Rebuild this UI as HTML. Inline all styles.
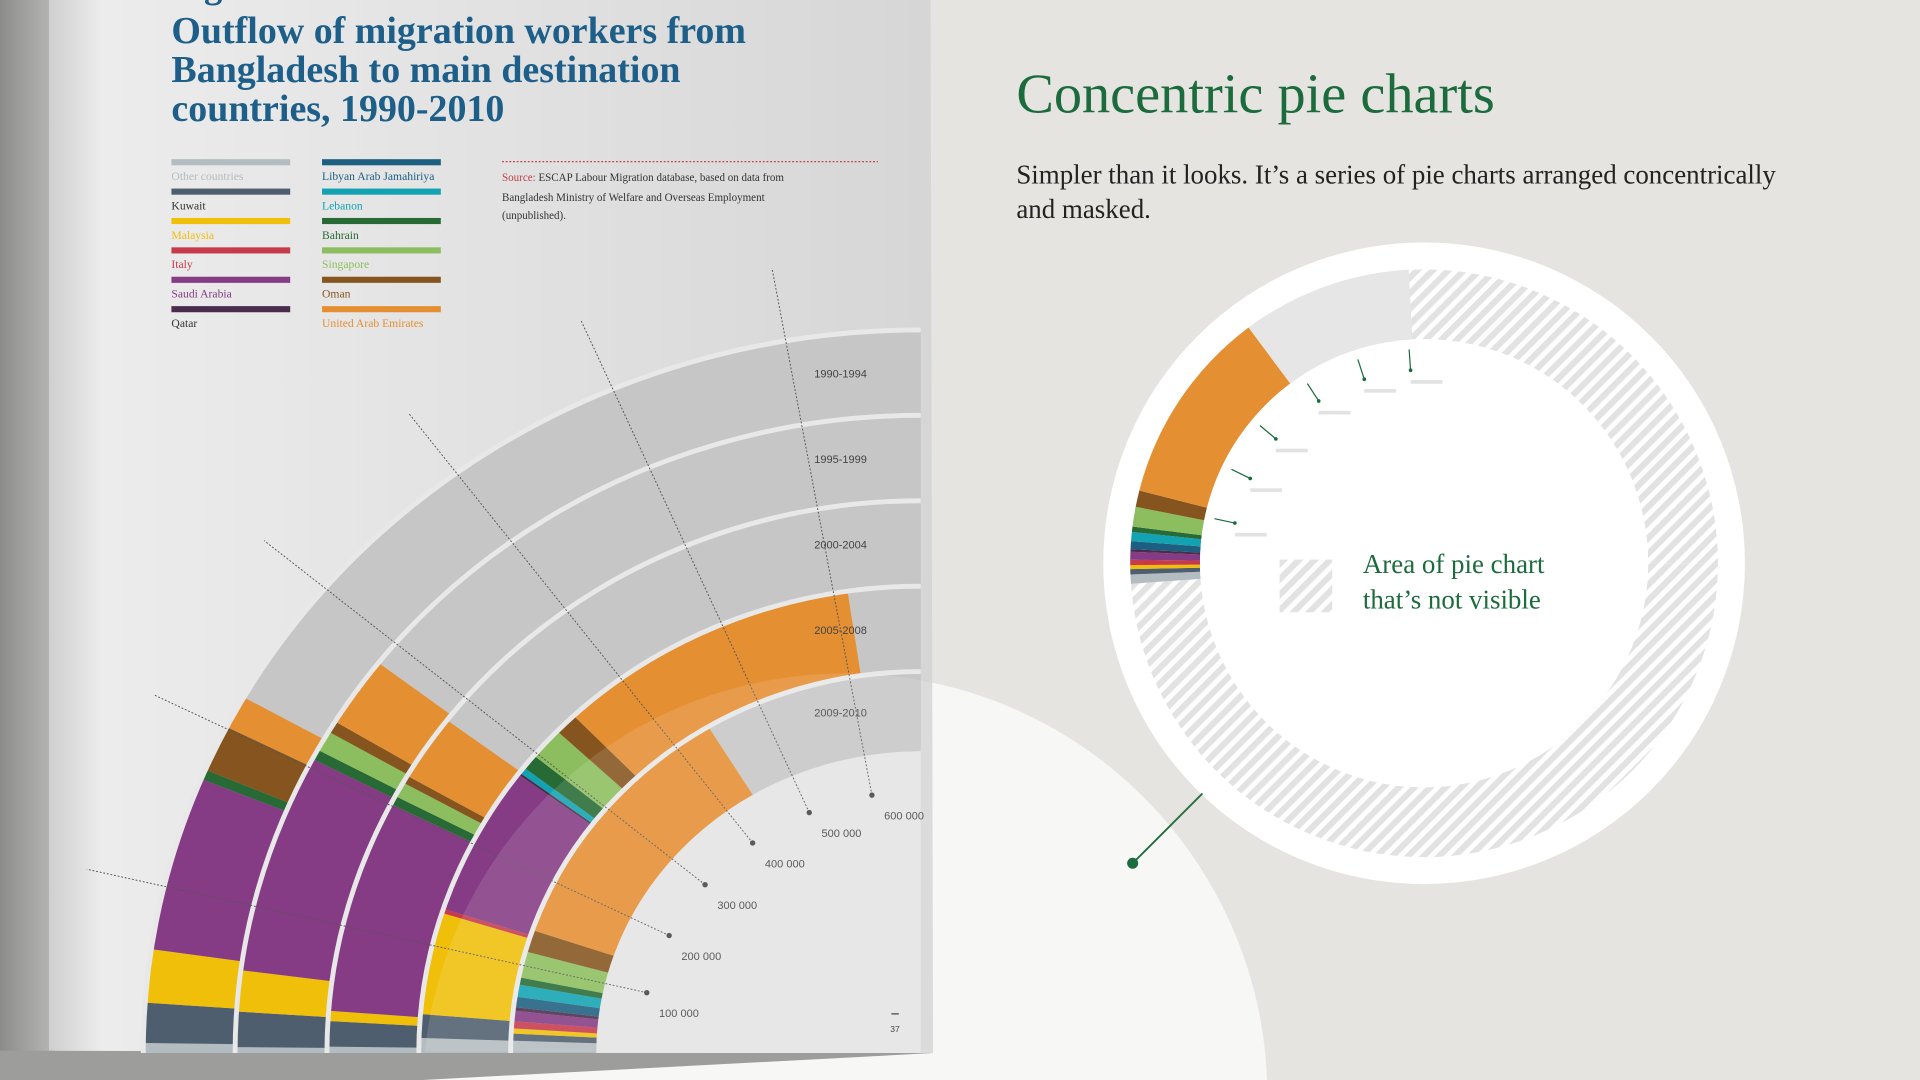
<!DOCTYPE html>
<html><head><meta charset="utf-8"><style>
html,body{margin:0;padding:0;width:1920px;height:1080px;overflow:hidden;background:#e5e4e0}
svg{display:block;position:absolute;left:0;top:0}
.serif{font-family:"Liberation Serif",serif}
.sans{font-family:"Liberation Sans",sans-serif}
</style></head><body>
<svg id="main" width="1920" height="1080" viewBox="0 0 1568 882" xmlns="http://www.w3.org/2000/svg">
<defs>
<linearGradient id="pageg" x1="0" x2="1" y1="0" y2="0">
<stop offset="0" stop-color="#cfcfcf"/><stop offset="0.06" stop-color="#ececec"/><stop offset="0.5" stop-color="#e2e2e2"/><stop offset="1" stop-color="#d6d6d6"/></linearGradient>
<linearGradient id="leftg" x1="0" x2="1"><stop offset="0" stop-color="#8c8c8a"/><stop offset="1" stop-color="#b8b8b6"/></linearGradient>
<pattern id="hatch" width="9" height="9" patternUnits="userSpaceOnUse" patternTransform="rotate(45)">
<rect width="9" height="9" fill="#ffffff"/><rect width="5" height="9" fill="#e2e2e2"/></pattern>
<clipPath id="pageclip"><polygon points="40,0 760,0 762,860 40,858"/></clipPath>
</defs>
<rect x="0" y="0" width="1568" height="882" fill="#e5e4e0"/>
<circle cx="690" cy="895" r="345" fill="#f7f7f5"/>
<rect x="0" y="0" width="45" height="882" fill="url(#leftg)"/>
<polygon points="40,0 760,0 762,860 40,858" fill="url(#pageg)"/>
<polygon points="0,858 762,860 345,882 0,882" fill="#9d9d9b"/>
<g id="chart"></g>
<circle cx="690" cy="895" r="345" fill="#ffffff" opacity="0.12" clip-path="url(#pageclip)"/>

<text class="serif" x="140" y="-2" font-size="30" font-weight="bold" fill="#1d5f89">Figure 2.</text>
<g class="serif" font-size="31" font-weight="bold" fill="#1d5f89">
<text x="140" y="35">Outflow of migration workers from</text>
<text x="140" y="67">Bangladesh to main destination</text>
<text x="140" y="99">countries, 1990-2010</text></g>
<g id="legend"></g>
<line x1="410" y1="132" x2="717" y2="132" stroke="#c0404a" stroke-width="1" stroke-dasharray="1.5,1.5"/>
<g class="serif" font-size="9" fill="#333">
<text x="410" y="148"><tspan fill="#c0404a">Source:</tspan> ESCAP Labour Migration database, based on data from</text>
<text x="410" y="164">Bangladesh Ministry of Welfare and Overseas Employment</text>
<text x="410" y="179">(unpublished).</text></g>
<text class="sans" x="727" y="843" font-size="7" fill="#444">37</text>
<line x1="728" y1="828" x2="734" y2="828" stroke="#444"/>

<text class="serif" x="830" y="92" font-size="46" fill="#1c6b3c">Concentric pie charts</text>
<g class="serif" font-size="22" fill="#222">
<text x="830" y="150">Simpler than it looks. It’s a series of pie charts arranged concentrically</text>
<text x="830" y="178">and masked.</text></g>
<g id="mag">
<circle cx="1163" cy="460" r="262" fill="#ffffff"/>
</g>
<line x1="925" y1="705" x2="982" y2="648" stroke="#1c6b3c" stroke-width="1.5"/>
<circle cx="925" cy="705" r="4.5" fill="#1c6b3c"/>
<rect x="1045" y="457" width="43" height="43" fill="url(#hatch)"/>
<g class="serif" font-size="22" fill="#1c6b3c">
<text x="1113" y="468">Area of pie chart</text><text x="1113" y="497">that’s not visible</text></g>
</svg>
<script>
const countries=["Other countries","Kuwait","Malaysia","Italy","Saudi Arabia","Qatar","Libyan Arab Jamahiriya","Lebanon","Bahrain","Singapore","Oman","United Arab Emirates"];
const colors=["#b3bcc1","#4f5e6e","#efbf0a","#c73a4c","#853c85","#4a2c4c","#1d5f80","#12a2b2","#276a35","#8cbd5e","#86551f","#e58f33"];
const periods=["1990-1994","1995-1999","2000-2004","2005-2008","2009-2010"];
const v1990=[6,24,32,0,105,0,0,0,6,0,28,20];
const v1995=[4,24,28,0,150,0,0,0,7,14,8,48];
const v2000=[5,20,8,0,168,0,0,0,7,12,6,52];
const v2005=[14,22,95,4,140,2,0,6,14,30,20,265];
const v2010=[14,8,6,8,12,4,12,14,8,30,25,300];
const values=[v1990,v1995,v2000,v2005,v2010];
const scaleTicks=[100000,200000,300000,400000,500000,600000];
const tickLabels=["100 000","200 000","300 000","400 000","500 000","600 000"];
const legCol1=[0,1,2,3,4,5], legCol2=[6,7,8,9,10,11];

const NS="http://www.w3.org/2000/svg";
const cx=752,cy=860,k=0.93,degPerK=90/675;
const radii=[[560,635],[485,560],[410,485],[335,410],[265,335]];
function pt(r,a){const t=a*Math.PI/180;return [cx-r*Math.cos(t),cy-r*k*Math.sin(t)];}
function sector(r0,r1,a0,a1){const p1=pt(r1,a0),p2=pt(r1,a1),p3=pt(r0,a1),p4=pt(r0,a0);const l=(a1-a0)>180?1:0;
return `M${p1[0]},${p1[1]} A${r1},${r1*k} 0 ${l} 1 ${p2[0]},${p2[1]} L${p3[0]},${p3[1]} A${r0},${r0*k} 0 ${l} 0 ${p4[0]},${p4[1]} Z`;}
function mk(tag,attrs,parent){const e=document.createElementNS(NS,tag);for(const a in attrs)e.setAttribute(a,attrs[a]);parent.appendChild(e);return e;}
const chart=document.getElementById('chart');
periods.forEach((p,i)=>{const [r0,r1]=radii[i];
 const g=mk('path',{d:sector(r0,r1,0,90),fill:'#c6c6c6'},chart);
 
 
 let a=0;
 values[i].forEach((v,j)=>{if(!v)return;const a1=a+v*degPerK;
  const s=mk('path',{d:sector(r0,r1,a,Math.min(a1,90)),fill:colors[j]},chart);
  
  
  a=a1;});
 mk('path',{d:`M${pt(r1,0)[0]},${pt(r1,0)[1]} A${r1},${r1*k} 0 0 1 ${pt(r1,90)[0]},${pt(r1,90)[1]}`,fill:'none',stroke:'#e8e8e8','stroke-width':4},chart);
 const lab=mk('text',{x:708,y:cy-(r0+r1)/2*k+4,'font-size':9,'text-anchor':'end',fill:'#444','font-family':'Liberation Sans, sans-serif'},chart);
 lab.textContent=p;
 
 
});
mk('path',{d:sector(0,265,0,90),fill:'#e4e4e4'},chart);
scaleTicks.forEach((t,i)=>{const a=t/1000*degPerK;const p0=pt(230,a),p1=pt(700,a);
 const l=mk('line',{x1:p0[0],y1:p0[1],x2:p1[0],y2:p1[1],stroke:'#555','stroke-width':0.8,'stroke-dasharray':'1.5,1.5'},chart);
 
 
 mk('circle',{cx:p0[0],cy:p0[1],r:2.2,fill:'#444'},chart);
 const tx=mk('text',{x:p0[0]+10,y:p0[1]+20,'font-size':9,fill:'#444','font-family':'Liberation Sans, sans-serif'},chart);
 tx.textContent=tickLabels[i];
 
 
});
const leg=document.getElementById('legend');
[[legCol1,140],[legCol2,263]].forEach(([col,x])=>{col.forEach((j,r)=>{const y=130+r*24;
 const b=mk('rect',{x:x,y:y,width:97,height:5,fill:colors[j]},leg);
 
 
 const t=mk('text',{x:x,y:y+17,'font-size':9.5,fill:(j==1||j==5?'#333':colors[j]),'font-family':'Liberation Serif, serif'},leg);
 t.textContent=countries[j];
 
 });});
const mag=document.getElementById('mag');
const mx=1163,my=460;
function ms(r0,r1,a0,a1){const f=(r,a)=>{const t=a*Math.PI/180;return [mx-r*Math.cos(t),my-r*Math.sin(t)];};
 const p1=f(r1,a0),p2=f(r1,a1),p3=f(r0,a1),p4=f(r0,a0);const l=(a1-a0)>180?1:0;
 return `M${p1[0]},${p1[1]} A${r1},${r1} 0 ${l} 1 ${p2[0]},${p2[1]} L${p3[0]},${p3[1]} A${r0},${r0} 0 ${l} 0 ${p4[0]},${p4[1]} Z`;}
mk('path',{d:ms(183,240,0,180),fill:'url(#hatch)'},mag);
mk('path',{d:ms(183,240,180,360),fill:'url(#hatch)'},mag);
const magVals=v2010;let ma=-4;
magVals.forEach((v,j)=>{if(!v)return;const a1=ma+v*0.13;mk('path',{d:ms(183,240,ma,a1),fill:colors[j]},mag);ma=a1;});
mk('path',{d:ms(183,240,ma,87),fill:'#e6e6e6'},mag);
mk('circle',{cx:mx,cy:my,r:183,fill:'#fff'},mag);
[12,26,40,57,72,86].forEach(deg=>{
 const a=deg*Math.PI/180;const x0=mx-175*Math.cos(a),y0=my-175*Math.sin(a),x1=mx-158*Math.cos(a),y1=my-158*Math.sin(a);
 mk('line',{x1:x0,y1:y0,x2:x1,y2:y1,stroke:'#1c6b3c','stroke-width':1},mag);
 mk('circle',{cx:x1,cy:y1,r:1.5,fill:'#1c6b3c'},mag);
 mk('rect',{x:x1,y:y1+8,width:26,height:3,fill:'#e2e2e2'},mag);});
</script>
</body></html>
